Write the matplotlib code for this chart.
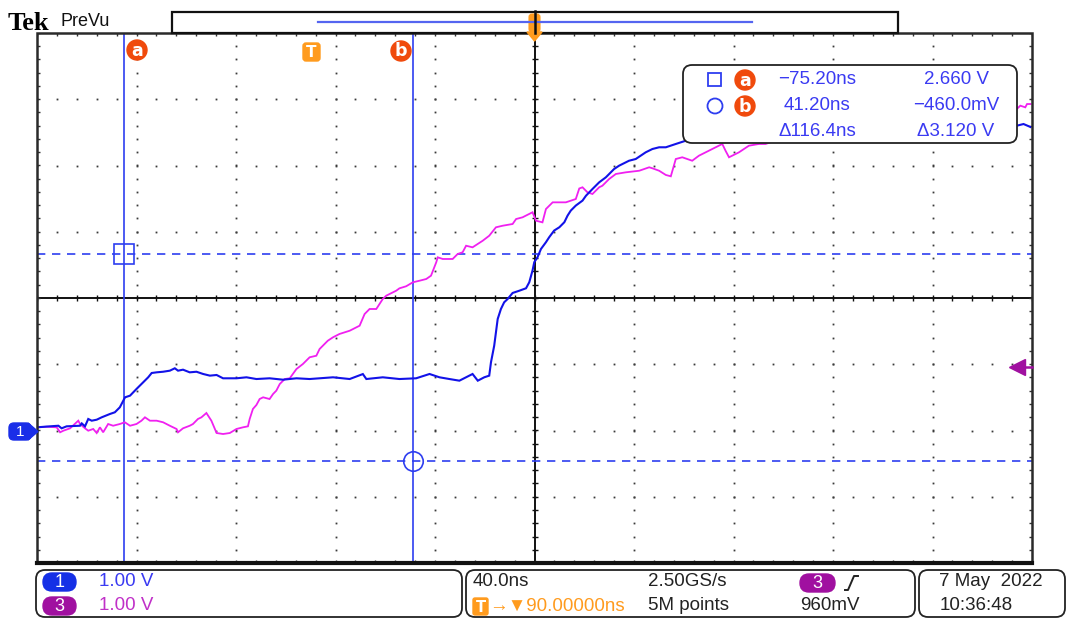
import matplotlib
matplotlib.use("Agg")
import matplotlib.pyplot as plt
from matplotlib.patches import FancyBboxPatch, Rectangle, Circle, Polygon
import numpy as np

# ---------------- data ----------------
ch1_time_ns = [-110.0, -104.8, -101.4, -100.1, -98.1, -92.7, -92.0, -90.7, -89.4, -88.0,
               -86.0, -84.0, -80.7, -78.7, -76.7, -74.6, -72.6, -70.0, -67.3, -65.3,
               -63.9, -61.9, -59.3, -56.6, -54.6, -53.3, -51.3, -48.6, -45.9, -43.2,
               -40.5, -37.8, -35.2, -29.8, -25.8, -21.8, -16.5, -11.1, -5.7, -0.4,
               3.6, 9.0, 15.7, 21.0, 22.4, 29.0, 35.7, 42.4, 47.8, 51.8,
               55.8, 59.8, 65.1, 67.2, 69.8, 71.8, 72.5, 73.8, 75.2, 76.5,
               77.8, 79.2, 81.2, 83.9, 86.6, 87.9, 89.2, 89.9, 91.2, 92.6,
               94.6, 95.9, 97.9, 100.0, 102.0, 103.3, 104.6, 106.6, 109.3, 110.7,
               113.3, 116.0, 118.7, 122.0, 124.0, 128.0, 130.7, 134.7, 137.4, 140.1,
               142.8, 146.8, 150.8, 283.9, 286.6, 289.4]
ch1_volts = [0.048, 0.063, 0.072, 0.033, 0.063, 0.072, 0.107, 0.063, 0.174, 0.148,
             0.163, 0.199, 0.249, 0.275, 0.350, 0.501, 0.526, 0.627, 0.728, 0.803,
             0.868, 0.878, 0.887, 0.903, 0.939, 0.903, 0.918, 0.878, 0.887, 0.853,
             0.828, 0.838, 0.788, 0.788, 0.803, 0.777, 0.788, 0.767, 0.788, 0.777,
             0.788, 0.803, 0.777, 0.852, 0.777, 0.803, 0.777, 0.788, 0.853, 0.803,
             0.777, 0.752, 0.853, 0.752, 0.803, 0.828, 1.029, 1.280, 1.683, 1.834,
             1.935, 1.985, 2.076, 2.110, 2.147, 2.238, 2.414, 2.540, 2.615, 2.740,
             2.842, 2.917, 3.018, 3.068, 3.144, 3.244, 3.320, 3.395, 3.470, 3.544,
             3.645, 3.746, 3.822, 3.947, 3.997, 4.072, 4.098, 4.199, 4.249, 4.275,
             4.275, 4.325, 4.374, 4.601, 4.626, 4.581]

ch3_time_ns = [-110.0, -106.1, -102.1, -100.7, -99.4, -96.7, -93.4, -92.7, -90.7, -89.4,
               -87.4, -86.0, -84.7, -83.4, -81.4, -79.4, -76.7, -74.7, -72.6, -70.0,
               -68.0, -66.6, -64.6, -61.9, -59.3, -56.6, -53.9, -53.3, -51.3, -48.6,
               -47.3, -45.3, -43.9, -41.9, -39.9, -38.5, -37.8, -35.2, -32.5, -29.8,
               -27.2, -25.2, -24.5, -23.2, -21.8, -20.5, -19.1, -16.5, -15.1, -13.8,
               -12.4, -10.4, -8.4, -5.7, -3.1, -0.4, 2.3, 3.6, 4.9, 6.9,
               9.0, 11.6, 15.7, 19.7, 21.7, 23.7, 26.4, 29.0, 30.4, 34.4,
               35.7, 38.4, 41.1, 43.8, 46.5, 48.4, 50.5, 51.1, 53.1, 57.1,
               59.1, 61.1, 62.5, 65.1, 69.2, 71.8, 74.5, 77.2, 81.2, 82.6,
               85.2, 89.2, 90.6, 93.2, 94.6, 97.3, 102.6, 106.6, 108.0, 109.3,
               111.3, 113.3, 116.0, 117.3, 120.0, 122.7, 126.7, 132.1, 136.1, 137.4,
               140.1, 142.8, 144.8, 146.8, 149.4, 153.4, 156.1, 160.1, 164.2, 165.5,
               166.8, 168.2, 172.2, 176.2, 180.2, 182.9, 185.6, 283.9, 285.3, 287.3,
               288.0, 289.4]
ch3_volts = [0.048, 0.057, 0.048, -0.027, -0.003, 0.033, 0.148, 0.098, 0.033, -0.003,
             0.023, -0.038, 0.048, -0.027, 0.098, 0.072, 0.098, 0.124, 0.072, 0.098,
             0.148, 0.199, 0.148, 0.148, 0.124, 0.072, 0.023, -0.027, 0.033, 0.072,
             0.098, 0.174, 0.199, 0.264, 0.148, 0.023, -0.038, -0.053, -0.038, 0.023,
             0.048, 0.063, 0.174, 0.325, 0.385, 0.475, 0.501, 0.475, 0.551, 0.601,
             0.702, 0.777, 0.788, 0.928, 1.004, 1.105, 1.129, 1.230, 1.280, 1.355,
             1.407, 1.457, 1.506, 1.582, 1.758, 1.834, 1.834, 1.985, 2.035, 2.110,
             2.146, 2.177, 2.237, 2.261, 2.287, 2.337, 2.539, 2.614, 2.589, 2.589,
             2.664, 2.690, 2.789, 2.765, 2.865, 2.940, 3.067, 3.091, 3.117, 3.192,
             3.218, 3.294, 3.167, 3.142, 3.343, 3.444, 3.444, 3.494, 3.653, 3.671,
             3.595, 3.570, 3.671, 3.695, 3.796, 3.872, 3.897, 3.921, 3.973, 3.958,
             3.921, 3.857, 3.837, 4.098, 4.124, 4.072, 4.148, 4.223, 4.299, 4.325,
             4.223, 4.124, 4.199, 4.299, 4.325, 4.325, 4.360, 4.853, 4.903, 4.878,
             4.928, 4.928]

time_per_div_ns = 40.0
center_time_ns = 90.0
ch1_volts_per_div = 1.00
ch3_volts_per_div = 1.00
ch1_position_div = -2.0
ch3_position_div = -2.0
ch3_trigger_level_v = 0.960

cursor_a_ns = -75.20
cursor_b_ns = 41.20
cursor_a_v = 2.660
cursor_b_v = -0.460

readout_times = ["\u221275.20ns", "41.20ns", "\u0394116.4ns"]
readout_volts = ["2.660 V", "\u2212460.0mV", "\u03943.120 V"]

ch_labels = ["1", "3"]
ch_scales = ["1.00 V", "1.00 V"]
timebase_text = "40.0ns"
trigger_delay_text = "\u2192\u25bc90.00000ns"
sample_rate_text = "2.50GS/s"
record_len_text = "5M points"
trig_src = "3"
trig_level_text = "960mV"
date_text = "7 May  2022"
time_text = "10:36:48"

# ---------------- styling ----------------
BLUE_TR = "#1212E8"
MAG_TR = "#F020F0"
CUR_BLUE = "#2E3EF0"
TXT_BLUE = "#3A3AF2"
ORANGE = "#FF9B1E"
ORANGE_RED = "#F04A0C"
PURPLE = "#A010A0"
FONT = "Liberation Sans"

W, H = 1069, 619
fig = plt.figure(figsize=(W / 100, H / 100), dpi=100)
fig.patch.set_facecolor("white")

L, R, T, B = 37, 1032, 33, 563
ax = fig.add_axes([L / W, 1 - B / H, (R - L) / W, (B - T) / H])
ax.set_xlim(-5, 5)
ax.set_ylim(-4, 4)
ax.set_axis_off()
ax.set_zorder(1)

ov = fig.add_axes([0, 0, 1, 1])
ov.set_xlim(0, W)
ov.set_ylim(H, 0)
ov.set_axis_off()
ov.set_zorder(2)


def tdiv(t):
    return (np.asarray(t) - center_time_ns) / time_per_div_ns


# ---------------- graticule ----------------
dot_col = "#3a3a3a"
fine_y = np.arange(-4, 4.001, 0.2)
fine_x = np.arange(-5, 5.001, 0.2)
for xi in range(-4, 5):
    if xi == 0:
        continue
    ax.plot([xi] * len(fine_y), fine_y, ls="none", marker="s", ms=1.3, mew=0, color=dot_col)
for yi in range(-3, 4):
    if yi == 0:
        continue
    ax.plot(fine_x, [yi] * len(fine_x), ls="none", marker="s", ms=1.3, mew=0, color=dot_col)
ax.axhline(0, color="#111111", lw=1.4, zorder=2)
ax.axvline(0, color="#111111", lw=1.4, zorder=2)
ax.plot(fine_x, [0] * len(fine_x), ls="none", marker="|", ms=5, mew=1.0, color="#111111")
ax.plot([0] * len(fine_y), fine_y, ls="none", marker="_", ms=5, mew=1.0, color="#111111")
# border ticks
ax.plot(fine_x, [4] * len(fine_x), ls="none", marker="|", ms=5, mew=1.0, color="#333")
ax.plot(fine_x, [-4] * len(fine_x), ls="none", marker="|", ms=5, mew=1.0, color="#333")
ax.plot([-5] * len(fine_y), fine_y, ls="none", marker="_", ms=5, mew=1.0, color="#333")
ax.plot([5] * len(fine_y), fine_y, ls="none", marker="_", ms=5, mew=1.0, color="#333")
ax.add_patch(Rectangle((-5, -4), 10, 8, fill=False, ec="#2a2a2a", lw=1.8, clip_on=False, zorder=5))
ax.plot([-5, 5], [-4, -4], color="#111", lw=3.0, clip_on=False, zorder=5)

# ---------------- cursors ----------------
xa, xb = tdiv(cursor_a_ns), tdiv(cursor_b_ns)
ya = cursor_a_v / ch1_volts_per_div + ch1_position_div
yb = cursor_b_v / ch1_volts_per_div + ch1_position_div
ax.axvline(xa, color=CUR_BLUE, lw=1.2, zorder=3)
ax.axvline(xb, color=CUR_BLUE, lw=1.2, zorder=3)
ax.axhline(ya, color=CUR_BLUE, lw=1.2, ls=(0, (5, 4)), zorder=3)
ax.axhline(yb, color=CUR_BLUE, lw=1.2, ls=(0, (5, 4)), zorder=3)
ax.plot([xa], [ya], marker="s", ms=14, mfc="none", mec=CUR_BLUE, mew=1.2, zorder=3)
ax.plot([xb], [yb], marker="o", ms=14, mfc="none", mec=CUR_BLUE, mew=1.2, zorder=3)

# ---------------- waveforms ----------------
ax.plot(tdiv(ch3_time_ns), np.asarray(ch3_volts) / ch3_volts_per_div + ch3_position_div,
        color=MAG_TR, lw=1.3, zorder=4, solid_joinstyle="miter")
ax.plot(tdiv(ch1_time_ns), np.asarray(ch1_volts) / ch1_volts_per_div + ch1_position_div,
        color=BLUE_TR, lw=1.5, zorder=4, solid_joinstyle="miter")

# trigger level marker (ch3) on right edge
lvl = ch3_trigger_level_v / ch3_volts_per_div + ch3_position_div
ax.plot([4.85], [lvl], marker="<", ms=11, color=PURPLE, clip_on=False, zorder=6)
ax.plot([4.85, 5.0], [lvl, lvl], color=PURPLE, lw=1.8, clip_on=False, zorder=6)

# ---------------- overlay: top ----------------
ov.text(8, 23, "Tek", family="Liberation Serif", weight="bold", fontsize=19, va="center", ha="left")
ov.text(60, 22, "PreVu", family=FONT, fontsize=13, va="center", ha="left", color="#111")
ov.add_patch(Rectangle((172, 12), 726, 21, fc="white", ec="#111", lw=1.6))
ov.plot([318, 752], [22, 22], color="#5565F0", lw=1.6)
# trigger position flag
ov.add_patch(FancyBboxPatch((529, 14), 11, 18, boxstyle="round,pad=0,rounding_size=3",
                            fc=ORANGE, ec=ORANGE, lw=0.8))
ov.add_patch(Polygon([[527, 32], [542, 32], [534.5, 41]], closed=True, fc=ORANGE, ec=ORANGE))
ov.plot([534.5, 534.5], [11, 33], color="#111", lw=1.8)


def badge(x, y, letter, r=10):
    ov.add_patch(Circle((x, y), r, fc=ORANGE_RED, ec=ORANGE_RED))
    ov.text(x, y + 0.5, letter, color="white", weight="bold", fontsize=12.5, family="DejaVu Sans",
            ha="center", va="center")


badge(137, 50, "a")
badge(401, 51, "b")
ov.add_patch(FancyBboxPatch((303, 43), 17, 18, boxstyle="round,pad=0,rounding_size=3",
                            fc=ORANGE, ec=ORANGE))
ov.text(311.5, 52.5, "T", color="white", weight="bold", fontsize=11, family="DejaVu Sans",
        ha="center", va="center")

# ch1 ground marker on left
ov.add_patch(FancyBboxPatch((9, 423), 22, 17, boxstyle="round,pad=0,rounding_size=5",
                            fc="#1A2EE8", ec="#1A2EE8"))
ov.add_patch(Polygon([[28, 423], [28, 440], [38, 431.5]], closed=True, fc="#1A2EE8", ec="#1A2EE8"))
ov.text(20, 432, "1", color="white", fontsize=11, family=FONT, ha="center", va="center")

# ---------------- readout box ----------------
ov.add_patch(FancyBboxPatch((683, 65), 334, 78, boxstyle="round,pad=0,rounding_size=9",
                            fc="white", ec="#222", lw=1.3))
rows_y = [80, 106, 131]
ov.add_patch(Rectangle((708, 73), 13, 13, fill=False, ec=CUR_BLUE, lw=1.3))
ov.add_patch(Circle((715, 106), 7.5, fill=False, ec=CUR_BLUE, lw=1.3))
badge(745, 80, "a")
badge(745, 106, "b")
for yv, tt, vv in zip(rows_y, readout_times, readout_volts):
    ov.text(817, yv, tt, color=TXT_BLUE, fontsize=13.5, family=FONT, ha="center", va="center")
    ov.text(956, yv, vv, color=TXT_BLUE, fontsize=13.5, family=FONT, ha="center", va="center")

# ---------------- bottom status bar ----------------
for (x0, w0) in [(36, 426), (466, 449), (919, 146)]:
    ov.add_patch(FancyBboxPatch((x0, 570), w0, 47, boxstyle="round,pad=0,rounding_size=9",
                                fc="white", ec="#222", lw=1.3))

ch_colors = ["#1530E6", PURPLE]
ch_text_colors = [TXT_BLUE, "#C030C8"]
for i, (lab, sc) in enumerate(zip(ch_labels, ch_scales)):
    yy = 582 + 24 * i
    ov.add_patch(FancyBboxPatch((43, yy - 9), 33, 18, boxstyle="round,pad=0,rounding_size=9",
                                fc=ch_colors[i], ec=ch_colors[i]))
    ov.text(59.5, yy + 0.5, lab, color="white", fontsize=13, family=FONT, ha="center", va="center")
    ov.text(99, yy, sc, color=ch_text_colors[i], fontsize=13.5, family=FONT, ha="left", va="center")

ov.text(473, 582, timebase_text, color="#222", fontsize=13.5, family=FONT, ha="left", va="center")
ov.add_patch(FancyBboxPatch((473, 598), 15, 17, boxstyle="round,pad=0,rounding_size=2",
                            fc=ORANGE, ec=ORANGE))
ov.text(480.5, 607, "T", color="white", weight="bold", fontsize=10.5, family="DejaVu Sans",
        ha="center", va="center")
ov.text(489, 606, trigger_delay_text, color=ORANGE, fontsize=13.5,
        family=[FONT, "DejaVu Sans"], ha="left", va="center")

ov.text(648, 582, sample_rate_text, color="#222", fontsize=13.5, family=FONT, ha="left", va="center")
ov.text(648, 606, record_len_text, color="#222", fontsize=13.5, family=FONT, ha="left", va="center")

ov.add_patch(FancyBboxPatch((800, 574), 35, 18, boxstyle="round,pad=0,rounding_size=9",
                            fc=PURPLE, ec=PURPLE))
ov.text(817.5, 583, trig_src, color="white", fontsize=13, family=FONT, ha="center", va="center")
ov.plot([845, 848, 854, 858], [590, 590, 576, 576], color="#222", lw=1.4)
ov.text(800, 606, trig_level_text, color="#222", fontsize=13.5, family=FONT, ha="left", va="center")

ov.text(1043, 582, date_text, color="#222", fontsize=13.5, family=FONT, ha="right", va="center")
ov.text(1013, 606, time_text, color="#222", fontsize=13.5, family=FONT, ha="right", va="center")

fig.savefig("out.png", dpi=100, facecolor="white")
